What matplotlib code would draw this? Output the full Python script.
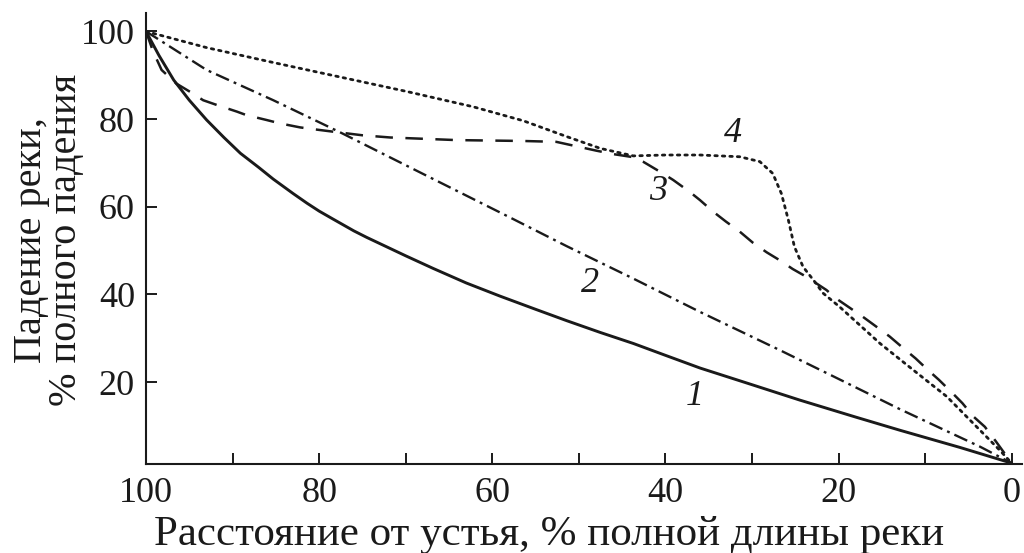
import matplotlib
matplotlib.use("Agg")
import matplotlib.pyplot as plt

# ---- data ----
x1 = [100, 98.5, 96.8, 95, 93, 91, 89.1, 87, 85.3, 83, 81.4, 80, 78.5, 76, 74.5, 70,
      66.8, 63, 59.1, 55, 51.4, 47.5, 43.7, 40, 36, 30, 24.5, 18, 12.9, 6, 0]
y1 = [100, 94.5, 88.9, 84.3, 79.8, 75.8, 72.2, 69.0, 66.3, 63.0, 60.8, 59.0, 57.3, 54.5, 53.0, 48.8,
      45.9, 42.6, 39.6, 36.6, 34.0, 31.3, 28.8, 26.1, 23.2, 19.4, 15.9, 12.0, 9.0, 5.1, 1.5]

x2 = [100, 93, 85.3, 77.6, 66.8, 58, 51.4, 43.7, 36, 26.8, 20.6, 12.9, 3.7, 0]
y2 = [100, 91.2, 84.3, 77.0, 66.3, 57.6, 51.0, 43.6, 36.0, 27.3, 21.3, 13.8, 5.3, 1.5]

x3 = [100, 99.2, 98.2, 96.5, 94.9, 93.4, 91.8, 89.5, 88.4, 86.1, 84.5, 82.2, 80.7, 78.3,
      75, 71.8, 64.1, 56.4, 52.6, 48, 46, 43.7, 42.6, 40.3, 39.1, 37.2, 36, 34.5, 33,
      31.4, 29.9, 28.3, 26.8, 25.3, 23.7, 21.4, 20.3, 18.6, 17.2, 15.4, 14.1, 12.5,
      11.1, 9.7, 8.4, 6.8, 5.7, 4.4, 3.1, 1.8, 0]
y3 = [100, 95.5, 91.2, 88.1, 86.2, 84.3, 83.2, 81.7, 80.9, 79.8, 79.0, 78.1, 77.7, 77.1,
      76.3, 75.8, 75.2, 75.0, 74.8, 72.8, 72.0, 71.3, 70.3, 67.6, 66.1, 63.4, 61.5, 58.9, 56.6,
      54.3, 51.8, 49.6, 47.8, 45.8, 44.0, 41.0, 39.1, 36.8, 34.9, 32.3, 30.4, 27.7,
      25.4, 22.8, 20.5, 17.4, 15.2, 12.1, 9.8, 6.4, 1.5]

x4 = [100, 93, 85.3, 77.6, 69.9, 62.2, 56.4, 51.4, 47.5, 43.7, 40, 36, 31.4, 29.1, 27.6,
      26.6, 25.8, 25.1, 24.1, 22.6, 21.8, 19.9, 15.2, 11.4, 7.5, 3.7, 1.4, 0]
y4 = [100, 96.3, 92.9, 89.6, 86.3, 82.8, 79.6, 76.0, 73.3, 71.6, 71.8, 71.8, 71.4, 70.3, 67.6,
      63.0, 57.0, 50.9, 46.3, 42.5, 40.3, 37.2, 28.8, 22.8, 16.7, 9.1, 4.5, 1.5]

curve_labels = ["1", "2", "3", "4"]
label_x = [36.6, 48.7, 40.8, 32.2]
label_y = [16.6, 42.5, 63.4, 76.7]

x_ticks = [100, 80, 60, 40, 20, 0]
x_minor = [90, 70, 50, 30, 10]
y_ticks = [20, 40, 60, 80, 100]

plt.rcParams['font.family'] = ['Liberation Serif', 'DejaVu Serif']

fig = plt.figure(figsize=(10.24, 5.53), dpi=100)
ax = fig.add_axes([0.1426, 0.1609, 0.8555, 0.8156])

ax.plot(x1, y1, color='#1a1a1a', lw=2.1, linestyle='-', solid_capstyle='round')
ax.plot(x2, y2, color='#1a1a1a', lw=1.7, linestyle=(0, (6, 2.2, 1.2, 2.2)))
ax.plot(x3, y3, color='#1a1a1a', lw=1.8, linestyle=(0, (7, 5)))
ax.plot(x4, y4, color='#1a1a1a', lw=2.0, linestyle=(0, (0.9, 1.8)), dash_capstyle='round')

for t, lx, ly in zip(curve_labels, label_x, label_y):
    ax.text(lx, ly, t, fontsize=26, style='italic', ha='center', va='center', color='#1a1a1a')

ax.set_xlim(100, -1.2)
ax.set_ylim(1.3, 104.2)
ax.set_xticks(x_ticks)
ax.set_xticks(x_minor, minor=True)
ax.set_yticks(y_ticks)
ax.set_xticklabels([str(v) for v in x_ticks])
ax.set_yticklabels([str(v) for v in y_ticks])

for s in ['top', 'right']:
    ax.spines[s].set_visible(False)
for s in ['left', 'bottom']:
    ax.spines[s].set_linewidth(1.5)
    ax.spines[s].set_color('#1a1a1a')

ax.tick_params(axis='both', which='both', direction='in', length=8, width=1.4,
               color='#1a1a1a', labelsize=26, labelcolor='#1a1a1a')
ax.tick_params(axis='x', which='both', pad=9)
ax.tick_params(axis='y', which='both', pad=8)

fig.text(0.536, 0.0145, "Расстояние от устья, % полной длины реки", fontsize=31,
         ha='center', va='baseline', color='#1a1a1a')
fig.text(0.048, 0.566, "Падение реки,\n% полного падения", fontsize=29, rotation=90,
         ha='center', va='center', multialignment='center', linespacing=0.95, color='#1a1a1a')

fig.savefig("out.png", dpi=100)
